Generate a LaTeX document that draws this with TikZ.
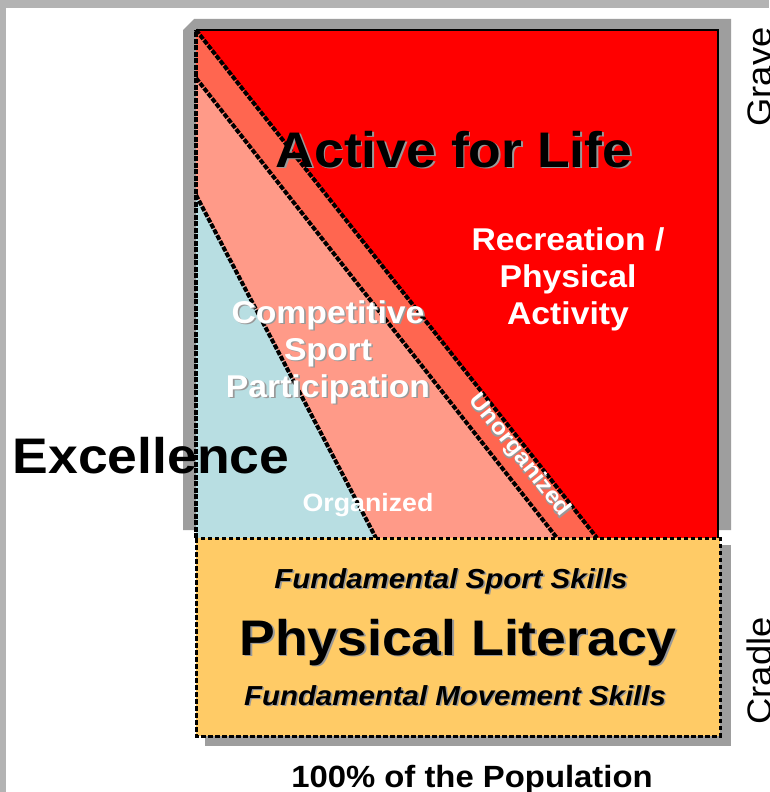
\documentclass[tikz,border=0pt]{standalone}
\usepackage{fontspec}
\setmainfont{Liberation Sans}[FakeStretch=1.07]

\definecolor{lifered}{HTML}{FF0000}
\definecolor{unorgband}{HTML}{FF6650}
\definecolor{compsalmon}{HTML}{FF9A88}
\definecolor{excblue}{HTML}{B8DEE2}
\definecolor{litorange}{HTML}{FFCB66}
\definecolor{framegray}{HTML}{B3B3B3}

% text with a soft grey copy behind it
\newcommand{\castshadow}[1]{\rlap{\kern1.6pt\raisebox{-1.6pt}{\color{black!40}#1}}#1}

\begin{document}
\begin{tikzpicture}[
    x=1pt, y=-1pt,
    bandline/.style={draw=black, line width=4pt, dash pattern=on 5pt off 1.5pt},
    dropshade/.style={fill=black!38},
    lbl/.style={inner sep=0pt, align=center},
    white lbl/.style={lbl, text=white, font=\bfseries\fontsize{31.5}{37}\selectfont},
    big/.style={lbl, font=\bfseries\fontsize{50}{60}\selectfont},
    skills/.style={lbl, font=\bfseries\itshape\fontsize{27.5}{33}\selectfont},
    side/.style={lbl, rotate=90, anchor=base, font=\fontsize{34}{40}\selectfont},
  ]
  \useasboundingbox (0,0) rectangle (769,792);
  \fill[white] (0,0) rectangle (769,792);
  \fill[framegray] (0,0) rectangle (769,8);
  \fill[framegray] (0,0) rectangle (6,792);

  % shadows behind the two blocks
  \fill[dropshade] (183,30) -- (194,19) -- (731,19) -- (731,530) -- (183,530) -- cycle;
  \fill[dropshade] (205,545) rectangle (731,746);

  % upper block: bands of participation
  \fill[lifered] (196,30) rectangle (718,538);
  \fill[unorgband] (196,30) -- (597,538) -- (557,538) -- (196,78) -- cycle;
  \fill[compsalmon] (196,78) -- (557,538) -- (376,538) -- (196,195) -- cycle;
  \fill[excblue] (196,195) -- (376,538) -- (196,538) -- cycle;
  \draw[bandline] (196,30) -- (597,538);
  \draw[bandline] (196,78) -- (557,538);
  \draw[bandline] (196,195) -- (376,538);
  \draw[bandline] (196,538) -- (196,30);
  \draw[line width=2pt] (196,30) -- (718,30) -- (718,538);

  % lower block
  \fill[litorange] (196,538) rectangle (720,736);
  \draw[bandline, line width=3pt, dash pattern=on 4.5pt off 2.5pt] (196,538) rectangle (720,736);

  \node[big, anchor=base] (life) at (454,167) {\castshadow{Active for Life}};
  \node[white lbl] (rec) at (568,279) {Recreation /\\Physical\\Activity};
  \node[white lbl] (comp) at (328,353)
    {\castshadow{Competitive}\\\castshadow{Sport}\\\castshadow{Participation}};
  \node[white lbl, font=\bfseries\fontsize{25}{28}\selectfont] (org) at (368,505) {Organized};
  \node[white lbl, font=\bfseries\fontsize{23}{28}\selectfont, rotate=-51.7] (unorg)
    at (519,456) {\castshadow{Unorganized}};
  \node[big, anchor=base] (exc) at (151,473) {Excellence};

  \node[skills, anchor=base] (fss) at (451,588) {\castshadow{Fundamental Sport Skills}};
  \node[big, anchor=base] (lit) at (458,655) {\castshadow{Physical Literacy}};
  \node[skills, anchor=base] (fms) at (455,705) {\castshadow{Fundamental Movement Skills}};

  \node[lbl, anchor=base, font=\bfseries\fontsize{30.7}{37}\selectfont] (pop) at (472,787)
    {100\% of the Population};
  \node[side] (grave) at (771,77) {Grave};
  \node[side] (cradle) at (771,671) {Cradle};
\end{tikzpicture}
\end{document}
